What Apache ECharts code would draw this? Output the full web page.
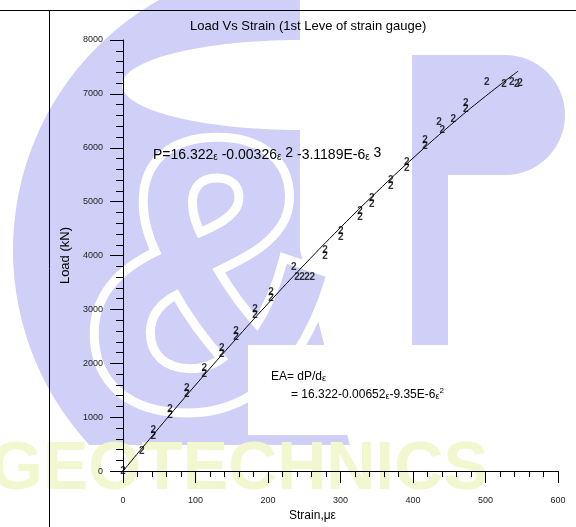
<!DOCTYPE html>
<html>
<head>
<meta charset="utf-8">
<script src="https://cdn.jsdelivr.net/npm/echarts@6/dist/echarts.min.js"></script>
<style>
  html, body { margin: 0; padding: 0; background: #fff; }
  #chart { width: 576px; height: 527px; }
</style>
</head>
<body>
<div id="chart"></div>
<script>
// measured gauge readings: strain (με) and load (kN)
var strain = [0, 25.8, 41.8, 41.8, 64.8, 64.8, 87.9, 87.9, 112.1, 112.1, 136.1, 136.1,
  155.9, 155.9, 182.1, 182.1, 204.1, 204.1, 235.6, 240, 247, 254, 261, 278.6, 278.6,
  300.3, 300.3, 326.9, 326.9, 343, 343, 369.2, 369.2, 391.3, 391.3, 416.6, 416.6,
  435.9, 440.4, 455.6, 472.7, 472.7, 501.7, 525.5, 536.1, 543, 547.6];
var load = [0, 361, 764, 654, 1148, 1038, 1539, 1429, 1905, 1795, 2271, 2161,
  2595, 2485, 3004, 2894, 3315, 3205, 3791, 3595, 3595, 3595, 3595, 4090, 3980,
  4445, 4335, 4823, 4713, 5067, 4957, 5403, 5293, 5738, 5628, 6136, 6026,
  6478, 6325, 6538, 6819, 6709, 7210, 7180, 7222, 7180, 7200];

// fitted curve
var fitStrain = [0, 50, 100, 150, 200, 250, 300, 350, 400, 450, 500, 545];
var fitLoad = [0, 808, 1597, 2364, 3109, 3828, 4519, 5180, 5808, 6401, 6956, 7422];

var xTicks = [0, 100, 200, 300, 400, 500, 600];
var yTicks = [0, 1000, 2000, 3000, 4000, 5000, 6000, 7000, 8000];

var LAV = '#cfcff7';
var FONT = 'Arial, "Liberation Sans", sans-serif';

var chart = echarts.init(document.getElementById('chart'), null, { renderer: 'canvas' });

var points = strain.map(function (s, i) { return [s, load[i]]; });
var fit = fitStrain.map(function (s, i) { return [s, fitLoad[i]]; });

var option = {
  backgroundColor: '#fff',
  animation: false,
  title: {
    text: 'Load Vs Strain (1st Leve of strain gauge)',
    left: 185, top: 15,
    textStyle: { fontFamily: FONT, fontSize: 13, fontWeight: 'normal', color: '#000' }
  },
  grid: { left: 123, right: 18, top: 40, bottom: 50, containLabel: false },
  xAxis: {
    type: 'value', min: xTicks[0], max: xTicks[xTicks.length - 1], interval: 100,
    name: 'Strain,με', nameLocation: 'middle', nameGap: 38,
    nameTextStyle: { fontFamily: FONT, fontSize: 12, color: '#000', padding: [0, 56, 0, 0] },
    axisLine: { lineStyle: { color: '#000', width: 1 } },
    axisTick: { length: 12, lineStyle: { color: '#000' } },
    minorTick: { show: true, splitNumber: 5, length: 6, lineStyle: { color: '#000' } },
    splitLine: { show: false },
    axisLabel: { fontFamily: FONT, fontSize: 9, color: '#222', margin: 25 }
  },
  yAxis: {
    type: 'value', min: yTicks[0], max: yTicks[yTicks.length - 1], interval: 1000,
    name: 'Load (kN)', nameLocation: 'middle', nameGap: 50, nameRotate: 90,
    nameTextStyle: { fontFamily: FONT, fontSize: 13, color: '#000' },
    axisLine: { lineStyle: { color: '#000', width: 1 } },
    axisTick: { length: 13, lineStyle: { color: '#000' } },
    minorTick: { show: true, splitNumber: 5, length: 7, lineStyle: { color: '#000' } },
    splitLine: { show: false },
    axisLabel: { fontFamily: FONT, fontSize: 9, color: '#222', margin: 20,
      formatter: function (v) { return String(v); } }
  },
  graphic: [
    // faint G&P watermark
    { type: 'sector', z: -30, shape: { cx: 300, cy: 250, r0: 0, r: 287, startAngle: Math.PI / 2 - 0.25, endAngle: Math.PI * 1.5, clockwise: true }, style: { fill: LAV } },
    { type: 'ellipse', z: -29.5, shape: { cx: 300, cy: 85, rx: 178, ry: 45 }, style: { fill: '#fff' } },
    { type: 'text', z: -29, x: 82, y: 300, style: { text: '&', font: 'bold 380px ' + FONT, fill: LAV, stroke: '#fff', lineWidth: 18, textVerticalAlign: 'middle' } },
    { type: 'rect', z: -28, shape: { x: 412, y: 55, width: 153, height: 120, r: [0, 60, 60, 0] }, style: { fill: LAV } },
    { type: 'rect', z: -28, shape: { x: 412, y: 170, width: 36, height: 175 }, style: { fill: LAV } },
    { type: 'rect', z: -27, shape: { x: 0, y: 445, width: 576, height: 82 }, style: { fill: '#fff' } },
    { type: 'text', z: -26, x: -10, y: 470, style: { text: 'GEOTECHNICS', font: 'bold 68px ' + FONT, fill: '#f2f7cf', textVerticalAlign: 'middle' } },
    // page frame lines from the scan
    { type: 'line', z: -5, shape: { x1: 0, y1: 10.5, x2: 576, y2: 10.5 }, style: { stroke: '#000', lineWidth: 1 } },
    { type: 'line', z: -5, shape: { x1: 49.5, y1: 10, x2: 49.5, y2: 527 }, style: { stroke: '#000', lineWidth: 1 } },
    // annotation box
    { type: 'rect', z: -10, shape: { x: 248, y: 345, width: 222, height: 90 }, style: { fill: '#fff' } },
    {
      type: 'text', z: 10, x: 153, y: 155,
      style: {
        text: '{t|P=16.322}{e|ε}{t| -0.00326}{e|ε}{u| 2}{t| -3.1189E-6}{e|ε}{u| 3}',
        textVerticalAlign: 'middle',
        rich: {
          t: { font: '14px ' + FONT, fill: '#000' },
          u: { font: '14px ' + FONT, fill: '#000', padding: [0, 0, 4, 0] },
          e: { font: '10px ' + FONT, fill: '#000', padding: [4, 0, 0, 0] }
        }
      }
    },
    {
      type: 'text', z: 10, x: 271, y: 377,
      style: {
        text: '{t|EA= dP/d}{e|ε}',
        textVerticalAlign: 'middle',
        rich: {
          t: { font: '12px ' + FONT, fill: '#000' },
          e: { font: '9px ' + FONT, fill: '#000', padding: [3, 0, 0, 0] }
        }
      }
    },
    {
      type: 'text', z: 10, x: 291, y: 395,
      style: {
        text: '{t|= 16.322-0.00652}{e|ε}{t|-9.35E-6}{e|ε}{s|2}',
        textVerticalAlign: 'middle',
        rich: {
          t: { font: '12px ' + FONT, fill: '#000' },
          e: { font: '9px ' + FONT, fill: '#000', padding: [3, 0, 0, 0] },
          s: { font: '8px ' + FONT, fill: '#000', padding: [0, 0, 8, 0] }
        }
      }
    }
  ],
  series: [
    {
      type: 'line', data: fit, smooth: true, showSymbol: false, z: 3,
      lineStyle: { color: '#000', width: 1 }
    },
    {
      type: 'scatter', data: points, symbolSize: 1, z: 4,
      itemStyle: { color: 'rgba(0,0,0,0)' },
      label: {
        show: true, position: 'inside', formatter: '2',
        fontFamily: FONT, fontSize: 10, fontWeight: 'bold', color: '#000'
      }
    }
  ]
};

chart.setOption(option);
</script>
</body>
</html>
